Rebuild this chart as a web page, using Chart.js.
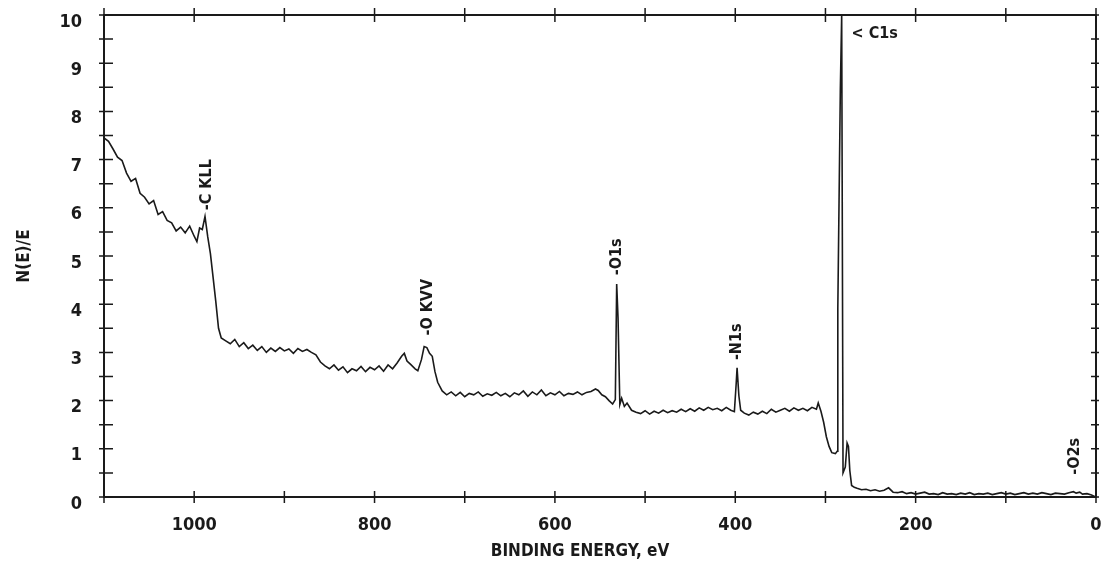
<!DOCTYPE html>
<html>
<head>
<meta charset="utf-8">
<script src="https://cdn.jsdelivr.net/npm/chart.js@4"></script>
<style>
  body { margin: 0; background: #fff; }
</style>
</head>
<body>
<canvas id="myChart" width="1101" height="562"></canvas>
<script>
"use strict";

// binding energy (eV), left to right
const bindingEnergy = [
  1100, 1095, 1090, 1085, 1080, 1075, 1070, 1065, 1060, 1055,
  1050, 1045, 1040, 1035, 1030, 1025, 1020, 1015, 1010, 1005,
  1000, 997, 994, 991, 988, 985, 982, 979, 976, 973,
  970, 965, 960, 955, 950, 945, 940, 935, 930, 925,
  920, 915, 910, 905, 900, 895, 890, 885, 880, 875,
  870, 865, 860, 855, 850, 845, 840, 835, 830, 825,
  820, 815, 810, 805, 800, 795, 790, 785, 780, 775,
  770, 767, 764, 760, 755, 752, 748, 745, 742, 739,
  736, 733, 730, 725, 720, 715, 710, 705, 700, 695,
  690, 685, 680, 675, 670, 665, 660, 655, 650, 645,
  640, 635, 630, 625, 620, 615, 610, 605, 600, 595,
  590, 585, 580, 575, 570, 565, 560, 555, 552, 548,
  544, 540, 536, 533, 531.5, 530, 528, 526, 523, 520,
  515, 510, 505, 500, 495, 490, 485, 480, 475, 470,
  465, 460, 455, 450, 445, 440, 435, 430, 425, 420,
  415, 410, 405, 401, 399, 398, 396, 394, 390, 385,
  380, 375, 370, 365, 360, 355, 350, 345, 340, 335,
  330, 325, 320, 315, 310, 308, 305, 302, 299, 296,
  293, 289, 287, 286.3, 283.5, 282, 280.5, 278, 276, 274.5,
  273, 271, 268, 265, 260, 255, 250, 245, 240, 235,
  230, 225, 220, 215, 210, 205, 200, 195, 190, 185,
  180, 175, 170, 165, 160, 155, 150, 145, 140, 135,
  130, 125, 120, 115, 110, 105, 100, 95, 90, 85,
  80, 75, 70, 65, 60, 55, 50, 45, 40, 35,
  30, 25, 22, 18, 15, 10, 5, 0
];

// N(E)/E at each energy above
const intensity = [
  7.45, 7.38, 7.22, 7.05, 6.98, 6.72, 6.55, 6.61, 6.30, 6.22,
  6.08, 6.15, 5.86, 5.92, 5.74, 5.69, 5.52, 5.60, 5.48, 5.62,
  5.41, 5.30, 5.58, 5.55, 5.82, 5.40, 5.05, 4.55, 4.05, 3.50,
  3.30, 3.24, 3.18, 3.27, 3.12, 3.20, 3.08, 3.15, 3.04, 3.12,
  3.00, 3.09, 3.02, 3.10, 3.03, 3.07, 2.98, 3.08, 3.02, 3.06,
  3.00, 2.95, 2.80, 2.72, 2.66, 2.74, 2.63, 2.70, 2.58, 2.66,
  2.62, 2.71, 2.60, 2.69, 2.64, 2.72, 2.61, 2.74, 2.66, 2.78,
  2.92, 2.98, 2.82, 2.75, 2.66, 2.62, 2.85, 3.12, 3.10, 2.98,
  2.92, 2.60, 2.38, 2.20, 2.12, 2.18, 2.10, 2.17, 2.08, 2.15,
  2.12, 2.18, 2.09, 2.14, 2.11, 2.17, 2.10, 2.15, 2.08, 2.16,
  2.12, 2.20, 2.09, 2.18, 2.12, 2.22, 2.10, 2.16, 2.12, 2.19,
  2.10, 2.15, 2.13, 2.18, 2.12, 2.17, 2.19, 2.24, 2.21, 2.12,
  2.08, 2.00, 1.93, 2.02, 4.42, 3.72, 1.92, 2.05, 1.88, 1.95,
  1.80, 1.76, 1.73, 1.79, 1.72, 1.78, 1.74, 1.80, 1.75, 1.79,
  1.76, 1.82, 1.77, 1.83, 1.78, 1.85, 1.80, 1.86, 1.81, 1.84,
  1.79, 1.86, 1.80, 1.77, 2.35, 2.68, 2.10, 1.80, 1.74, 1.70,
  1.76, 1.72, 1.78, 1.73, 1.82, 1.76, 1.80, 1.84, 1.78, 1.85,
  1.80, 1.84, 1.79, 1.86, 1.82, 1.95, 1.78, 1.55, 1.25, 1.05,
  0.92, 0.90, 0.95, 3.90, 8.45, 10.0, 0.50, 0.62, 1.12, 1.05,
  0.55, 0.24, 0.20, 0.18, 0.15, 0.16, 0.13, 0.15, 0.12, 0.14,
  0.19, 0.10, 0.09, 0.11, 0.07, 0.09, 0.06, 0.08, 0.10, 0.06,
  0.07, 0.05, 0.09, 0.06, 0.07, 0.05, 0.08, 0.06, 0.09, 0.05,
  0.07, 0.06, 0.08, 0.05, 0.07, 0.09, 0.06, 0.08, 0.05, 0.07,
  0.09, 0.06, 0.08, 0.06, 0.09, 0.07, 0.05, 0.08, 0.07, 0.06,
  0.09, 0.11, 0.08, 0.10, 0.06, 0.07, 0.04, 0.00
];

// peak labels, written upward just above each peak
const peakNames = ["-C KLL", "-O KVV", "-O1s", "-N1s", "-O2s"];
const peakEnergy = [986, 741, 531, 398, 23.5];
const peakLabelLevel = [5.95, 3.35, 4.6, 2.84, 0.46];

const xTitle = "BINDING ENERGY, eV";
const yTitle = "N(E)/E";

const ink = "#1a1a1a";
const fontFamily = '"Liberation Sans Narrow", "DejaVu Sans Condensed", sans-serif';

const points = [];
for (let i = 0; i < bindingEnergy.length; i++) {
  points.push({ x: bindingEnergy[i], y: intensity[i] });
}

// keep the plot box where the original puts it, labels may hang over
function noOverhang(scale) {
  scale.paddingTop = 0;
  scale.paddingBottom = 0;
  scale.paddingLeft = 0;
  scale.paddingRight = 0;
}

// frame on all four sides, ticks that cross the axes, peak labels
const spectrumDecor = {
  id: "spectrumDecor",
  afterDraw(chart) {
    const ctx = chart.ctx;
    const a = chart.chartArea;
    const x = chart.scales.x;
    const y = chart.scales.y;

    ctx.save();
    ctx.strokeStyle = ink;
    ctx.lineWidth = 2;
    ctx.strokeRect(a.left, a.top, a.right - a.left, a.bottom - a.top);

    ctx.lineWidth = 1.5;
    ctx.beginPath();
    x.ticks.forEach((t) => {
      const px = x.getPixelForValue(t.value);
      ctx.moveTo(px, a.bottom - 6);
      ctx.lineTo(px, a.bottom + 6);
      ctx.moveTo(px, a.top - 7);
      ctx.lineTo(px, a.top + 7);
    });
    y.ticks.forEach((t) => {
      const py = y.getPixelForValue(t.value);
      ctx.moveTo(a.left - 5, py);
      ctx.lineTo(a.left + 9, py);
      ctx.moveTo(a.right - 5, py);
      ctx.lineTo(a.right + 3, py);
    });
    ctx.stroke();

    ctx.fillStyle = ink;
    ctx.font = "bold 16px " + fontFamily;
    ctx.textBaseline = "middle";
    ctx.textAlign = "left";
    for (let i = 0; i < peakNames.length; i++) {
      ctx.save();
      ctx.translate(x.getPixelForValue(peakEnergy[i]), y.getPixelForValue(peakLabelLevel[i]));
      ctx.rotate(-Math.PI / 2);
      ctx.fillText(peakNames[i], 0, 0);
      ctx.restore();
    }
    ctx.fillText("< C1s", x.getPixelForValue(271), y.getPixelForValue(9.6));

    ctx.font = "bold 17px " + fontFamily;
    ctx.textAlign = "center";
    ctx.fillText(xTitle, a.left + 476, 552);
    ctx.restore();
  },
};

const config = {
  type: "line",
  data: {
    datasets: [
      {
        label: "N(E)/E",
        data: points,
        borderColor: ink,
        borderWidth: 1.6,
        pointRadius: 0,
        tension: 0,
        fill: false,
      },
    ],
  },
  options: {
    responsive: false,
    animation: false,
    layout: { padding: { top: 15, right: 5, left: 0, bottom: 0 } },
    plugins: {
      legend: { display: false },
      tooltip: { enabled: false },
    },
    scales: {
      x: {
        type: "linear",
        reverse: true,
        min: 0,
        max: 1100,
        grid: { display: false, drawTicks: false },
        border: { display: false },
        ticks: {
          stepSize: 100,
          autoSkip: false,
          maxRotation: 0,
          padding: 18,
          color: ink,
          font: { family: fontFamily, size: 18, weight: "bold" },
          callback: (v) => (v % 200 === 0 ? v : ""),
        },
        afterFit(scale) {
          scale.height = 65;
          noOverhang(scale);
        },
      },
      y: {
        min: 0,
        max: 10,
        grid: { display: false, drawTicks: false },
        border: { display: false },
        title: {
          display: true,
          text: yTitle,
          color: ink,
          padding: { top: 14, bottom: 0 },
          font: { family: fontFamily, size: 17, weight: "bold" },
        },
        ticks: {
          stepSize: 0.5,
          autoSkip: false,
          padding: 22,
          labelOffset: 7,
          color: ink,
          font: { family: fontFamily, size: 18, weight: "bold" },
          callback: (v) => (Number.isInteger(v) ? v : ""),
        },
        afterFit(scale) {
          scale.width = 104;
          noOverhang(scale);
        },
      },
    },
  },
  plugins: [spectrumDecor],
};

new Chart(document.getElementById("myChart"), config);
</script>
</body>
</html>
